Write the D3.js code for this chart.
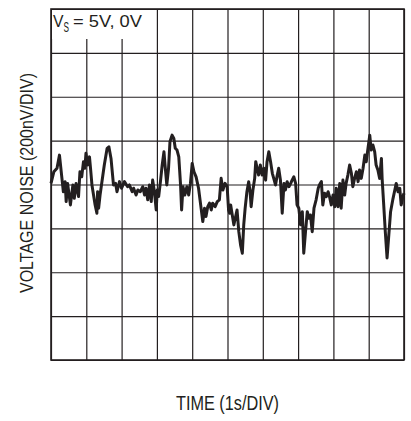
<!DOCTYPE html>
<html lang="en">
<head>
  <meta charset="UTF-8">
  <title>Voltage Noise</title>
  <style>
    body { margin: 0; background: #fff; }
    svg { display: block; }
    text { font-family: "Liberation Sans", Arial, sans-serif; fill: #231f20; }
  </style>
</head>
<body>
  <div id="chart"></div>
  <script src="https://d3js.org/d3.v7.min.js"></script>
  <script>

    // time in seconds (1s/DIV, 10 divisions)
    const time = [0,0.08,0.17,0.24,0.30,0.35,0.40,0.43,0.47,0.55,0.62,0.66,0.71,0.78,0.82,0.87,0.92,0.96,0.99,1.04,
      1.09,1.12,1.16,1.25,1.30,1.32,1.35,1.39,1.47,1.51,1.59,1.64,1.70,1.77,1.83,1.87,1.94,2.00,2.08,2.17,
      2.22,2.30,2.34,2.41,2.46,2.53,2.60,2.65,2.69,2.74,2.79,2.84,2.88,2.93,2.98,3.01,3.05,3.10,3.15,3.20,
      3.23,3.28,3.33,3.37,3.43,3.48,3.52,3.57,3.62,3.67,3.70,3.74,3.79,3.85,3.90,3.95,4.00,4.05,4.11,4.18,
      4.24,4.30,4.35,4.39,4.44,4.49,4.54,4.58,4.65,4.71,4.77,4.82,4.87,4.93,4.99,5.03,5.06,5.09,5.12,5.18,
      5.22,5.27,5.32,5.37,5.42,5.46,5.50,5.55,5.60,5.64,5.67,5.72,5.77,5.80,5.84,5.88,5.93,5.98,6.03,6.08,
      6.12,6.17,6.22,6.27,6.31,6.36,6.41,6.45,6.50,6.55,6.60,6.64,6.69,6.74,6.79,6.83,6.88,6.93,6.97,7.02,
      7.07,7.12,7.16,7.21,7.26,7.31,7.35,7.40,7.45,7.51,7.57,7.61,7.66,7.70,7.75,7.80,7.85,7.89,7.94,7.99,
      8.04,8.08,8.13,8.18,8.22,8.27,8.32,8.36,8.41,8.46,8.51,8.55,8.60,8.65,8.70,8.74,8.79,8.84,8.89,8.93,
      8.98,9.03,9.07,9.12,9.17,9.21,9.26,9.31,9.36,9.38,9.42,9.47,9.52,9.57,9.62,9.69,9.74,9.78,9.83,9.88,
      9.92,9.97,10];

    // voltage noise in nV (200nV/DIV, 0 at centre line)
    const noise = [5,58,74,134,43,-33,13,-78,5,-93,-2,-63,5,-55,58,35,104,74,142,89,
      126,74,-2,-93,-131,-33,-108,-48,43,89,165,172,119,-2,5,-33,13,-17,13,-10,
      -2,-33,-17,-48,-25,-33,-10,-48,-17,-70,-2,-78,20,-33,-116,-25,-55,13,89,149,
      89,-2,74,195,225,210,165,157,126,-2,-116,-10,-48,-10,-48,5,96,58,35,-17,
      -93,-169,-108,-146,-101,-85,-116,-85,-101,-78,-70,28,-25,5,-10,-116,-131,-93,-124,-184,
      -154,-116,-215,-275,-313,-184,-108,-33,13,-33,-101,-25,28,104,74,43,89,43,74,20,
      104,149,104,51,28,-2,43,74,20,-131,5,-25,13,-10,5,20,35,5,-93,-108,
      -184,-124,-313,-215,-124,-154,-139,-215,-108,-70,-17,0,13,-93,-40,-55,-33,-55,-93,-48,
      -101,-17,-101,5,-108,20,-48,5,43,89,51,-10,28,58,13,66,28,74,134,104,
      165,225,157,180,149,89,66,28,119,28,-78,-215,-335,-230,-124,-63,-25,5,-33,-17,
      -93,-55,-40];

    const xTicks = d3.range(0, 11, 1);
    const yTicks = d3.range(-800, 801, 200);

    const width = 411,
          height = 421,
          margin = {top: 9, right: 7, bottom: 61, left: 51};

    const svg = d3.select("#chart")
      .append("svg")
      .attr("width", width)
      .attr("height", height);

    const x = d3.scaleLinear([0, 10], [margin.left, width - margin.right]);
    const y = d3.scaleLinear([-800, 800], [height - margin.bottom, margin.top]);

    // grid
    svg.append("g")
      .attr("transform", `translate(0,${height - margin.bottom})`)
      .call(d3.axisBottom(x).tickValues(xTicks).tickFormat("")
        .tickSize(-(height - margin.top - margin.bottom)).tickSizeOuter(0))
      .call(g => g.select(".domain").remove())
      .call(g => g.selectAll("line").attr("stroke", "#231f20").attr("stroke-width", 1.2));

    svg.append("g")
      .attr("transform", `translate(${margin.left},0)`)
      .call(d3.axisLeft(y).tickValues(yTicks).tickFormat("")
        .tickSize(-(width - margin.left - margin.right)).tickSizeOuter(0))
      .call(g => g.select(".domain").remove())
      .call(g => g.selectAll("line").attr("stroke", "#231f20").attr("stroke-width", 1.2));

    // frame
    svg.append("rect")
      .attr("x", x(0))
      .attr("y", y(800))
      .attr("width", x(10) - x(0))
      .attr("height", y(-800) - y(800))
      .attr("fill", "none")
      .attr("stroke", "#231f20")
      .attr("stroke-width", 1.6);

    // legend label on white patch
    svg.append("rect")
      .attr("x", x(0) + 1)
      .attr("y", y(800) + 1)
      .attr("width", 98)
      .attr("height", 29)
      .attr("fill", "#fff");

    svg.append("text")
      .attr("x", 53)
      .attr("y", 27)
      .attr("textLength", 10.5)
      .attr("lengthAdjust", "spacingAndGlyphs")
      .style("font-size", "16.5px")
      .text("V");

    svg.append("text")
      .attr("x", 63.5)
      .attr("y", 32)
      .attr("textLength", 5.5)
      .attr("lengthAdjust", "spacingAndGlyphs")
      .style("font-size", "15px")
      .text("S");

    svg.append("text")
      .attr("x", 73)
      .attr("y", 27)
      .attr("textLength", 69)
      .attr("lengthAdjust", "spacingAndGlyphs")
      .style("font-size", "16.5px")
      .text("= 5V, 0V");

    // noise trace
    const line = d3.line()
      .x((d, i) => x(time[i]))
      .y(d => y(d));

    svg.append("path")
      .datum(noise)
      .attr("fill", "none")
      .attr("stroke", "#231f20")
      .attr("stroke-width", 3)
      .attr("stroke-linejoin", "round")
      .attr("d", line);

    // axis titles
    svg.append("text")
      .attr("x", 176)
      .attr("y", 410)
      .attr("textLength", 103)
      .attr("lengthAdjust", "spacingAndGlyphs")
      .style("font-size", "19.5px")
      .text("TIME (1s/DIV)");

    svg.append("text")
      .attr("transform", `translate(33,293) rotate(-90)`)
      .attr("textLength", 220)
      .attr("lengthAdjust", "spacingAndGlyphs")
      .style("font-size", "18.5px")
      .text("VOLTAGE NOISE (200nV/DIV)");

  </script>
</body>
</html>
